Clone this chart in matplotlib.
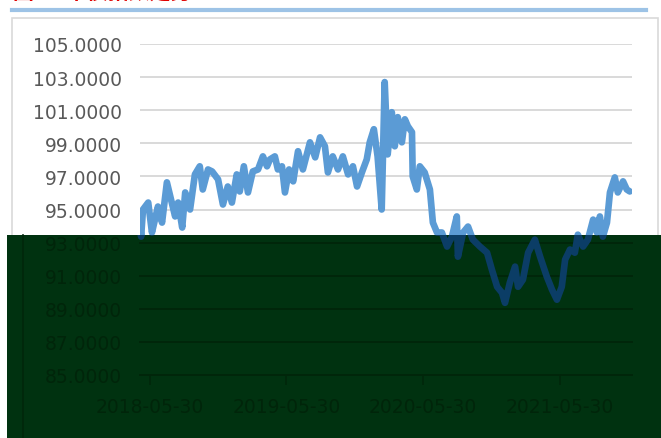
import matplotlib
matplotlib.use("Agg")
import matplotlib.pyplot as plt
import matplotlib.dates as mdates
from matplotlib.patches import Rectangle
from matplotlib.lines import Line2D
import pandas as pd

# =========================================
# Data
# =========================================

title_text = "图1：中债指数走势"

dates = [
    "2018-05-03", "2018-05-06", "2018-05-11", "2018-05-25", "2018-06-04", "2018-06-12",
    "2018-06-20", "2018-07-01", "2018-07-14", "2018-07-27", "2018-08-05", "2018-08-13",
    "2018-08-24", "2018-09-01", "2018-09-14", "2018-09-27", "2018-10-10", "2018-10-18",
    "2018-11-01", "2018-11-12", "2018-11-28", "2018-12-11", "2018-12-24", "2019-01-04",
    "2019-01-17", "2019-01-25", "2019-02-05", "2019-02-16", "2019-03-01", "2019-03-15",
    "2019-03-28", "2019-04-08", "2019-04-16", "2019-04-29", "2019-05-07", "2019-05-18",
    "2019-05-26", "2019-06-06", "2019-06-17", "2019-06-30", "2019-07-13", "2019-08-01",
    "2019-08-15", "2019-08-28", "2019-09-10", "2019-09-18", "2019-10-01", "2019-10-15",
    "2019-10-28", "2019-11-11", "2019-11-24", "2019-12-05", "2019-12-18", "2019-12-31",
    "2020-01-08", "2020-01-19", "2020-01-29", "2020-02-09", "2020-02-17", "2020-02-25",
    "2020-03-07", "2020-03-15", "2020-03-23", "2020-04-03", "2020-04-11", "2020-04-19",
    "2020-04-30", "2020-05-02", "2020-05-13", "2020-05-21", "2020-06-03", "2020-06-17",
    "2020-06-25", "2020-07-06", "2020-07-19", "2020-08-02", "2020-08-15", "2020-08-28",
    "2020-08-31", "2020-09-14", "2020-09-27", "2020-10-10", "2020-10-29", "2020-11-17",
    "2020-11-30", "2020-12-14", "2020-12-27", "2021-01-04", "2021-01-17", "2021-01-31",
    "2021-02-08", "2021-02-21", "2021-03-07", "2021-03-25", "2021-04-08", "2021-04-26",
    "2021-05-10", "2021-05-23", "2021-06-05", "2021-06-14", "2021-06-27", "2021-07-10",
    "2021-07-18", "2021-08-01", "2021-08-14", "2021-08-28", "2021-09-07", "2021-09-15",
    "2021-09-23", "2021-10-04", "2021-10-12", "2021-10-25", "2021-11-02", "2021-11-16",
    "2021-11-26", "2021-12-04",
]

values = [
    94.21, 93.36, 95.00, 95.42, 93.61, 94.39,
    95.18, 94.21, 96.64, 95.42, 94.58, 95.42,
    93.91, 96.03, 95.00, 97.12, 97.61, 96.21,
    97.42, 97.30, 96.82, 95.30, 96.39, 95.42,
    97.12, 96.09, 97.61, 96.03, 97.30, 97.42,
    98.21, 97.61, 98.03, 98.21, 97.42, 97.61,
    96.03, 97.42, 96.70, 98.52, 97.42, 99.06,
    98.15, 99.36, 98.82, 97.24, 98.21, 97.42,
    98.21, 97.12, 97.61, 96.39, 97.24, 98.03,
    99.06, 99.85, 98.21, 95.00, 102.70, 98.33,
    100.88, 98.82, 100.58, 99.06, 100.45, 100.03,
    99.67, 97.00, 96.21, 97.61, 97.24, 96.21,
    94.21, 93.61, 93.61, 92.76, 93.36, 94.58,
    92.15, 93.61, 93.97, 93.18, 92.76, 92.39,
    91.36, 90.33, 89.97, 89.36, 90.58, 91.55,
    90.33, 90.76, 92.39, 93.18, 92.15, 90.94,
    90.15, 89.55, 90.33, 91.97, 92.58, 92.39,
    93.48, 92.76, 93.18, 94.39, 93.61, 94.58,
    93.36, 94.21, 96.03, 96.94, 96.03, 96.70,
    96.21, 96.09,
]

x_ticks = ["2018-05-30", "2019-05-30", "2020-05-30", "2021-05-30"]
y_ticks = [85, 87, 89, 91, 93, 95, 97, 99, 101, 103, 105]
x_range = ["2018-05-03", "2021-12-10"]

LINE_COLOR = "#5B9BD5"
GRID_COLOR = "#D9D9D9"
TEXT_COLOR = "#595959"

# ghost colours inside the dark overlay band
SHADE_COLOR = "#003210"
GHOST_LINE = "#0b3d66"
GHOST_GRID = "#00260a"
GHOST_TEXT = "#00250a"

W, H = 661, 439


def style_axes(ax, grid_color, text_color, axis_color):
    ax.set_ylim(85, 105)
    ax.set_xlim(pd.to_datetime(x_range[0]), pd.to_datetime(x_range[1]))
    ax.set_yticks(y_ticks)
    ax.set_yticklabels([f"{v:.4f}" for v in y_ticks])
    ax.set_xticks(pd.to_datetime(x_ticks))
    ax.xaxis.set_major_formatter(mdates.DateFormatter("%Y-%m-%d"))
    ax.grid(axis="y", color=grid_color, linewidth=1.4)
    ax.grid(axis="x", visible=False)
    ax.set_axisbelow(True)
    for side in ["top", "right", "left"]:
        ax.spines[side].set_visible(False)
    ax.spines["bottom"].set_color(axis_color)
    ax.spines["bottom"].set_linewidth(1.2)
    ax.tick_params(axis="y", length=0, pad=13, labelsize=13.5, labelcolor=text_color)
    ax.tick_params(axis="x", length=7, width=1.2, color=axis_color, pad=9,
                   labelsize=13.5, labelcolor=text_color)


def main() -> None:
    x = pd.to_datetime(dates)

    fig = plt.figure(figsize=(W / 100, H / 100), dpi=100)
    fig.patch.set_facecolor("white")

    # chart frame, top rule and clipped title
    fig.add_artist(Rectangle((12 / W, -0.1), (658 - 12) / W, 1.1 - 19 / H,
                             transform=fig.transFigure, facecolor="white",
                             edgecolor=GRID_COLOR, linewidth=1.2, zorder=-1))
    fig.add_artist(Line2D([12 / W, 646 / W], [1 - 11 / H, 1 - 11 / H],
                          transform=fig.transFigure, color="#9DC3E6", linewidth=3))
    fig.text(13 / W, 1 - 3 / H, title_text, color="#E00000", fontsize=15,
             fontweight="bold", va="bottom", ha="left",
             family=["Noto Sans CJK SC", "DejaVu Sans"])

    pos = [140 / W, 1 - 376 / H, (632 - 140) / W, (376 - 45) / H]

    ax = fig.add_axes(pos)
    ax.set_facecolor("none")
    style_axes(ax, GRID_COLOR, TEXT_COLOR, GRID_COLOR)
    ax.plot(x, values, color=LINE_COLOR, linewidth=4.8,
            solid_joinstyle="round", solid_capstyle="round", zorder=3)

    # dark band over the lower part of the picture
    shade = Rectangle((7 / W, 0), 1 - 7 / W, (H - 236) / H,
                      transform=fig.transFigure, facecolor=SHADE_COLOR,
                      edgecolor="none", zorder=5)
    fig.add_artist(shade)
    fig.add_artist(Line2D([23 / W, 23 / W], [0, (H - 236) / H],
                          transform=fig.transFigure, color=GHOST_GRID,
                          linewidth=1.2, zorder=6))

    # faint copy of the chart seen through the band
    ax2 = fig.add_axes(pos)
    ax2.set_zorder(6)
    ax2.set_facecolor("none")
    style_axes(ax2, GHOST_GRID, GHOST_TEXT, GHOST_GRID)
    ghost, = ax2.plot(x, values, color=GHOST_LINE, linewidth=4.8,
                      solid_joinstyle="round", solid_capstyle="round")
    ghost.set_clip_path(shade)
    for gl in ax2.get_ygridlines():
        gl.set_clip_path(shade)
    for lbl in ax2.get_yticklabels():
        lbl.set_clip_path(shade)
        lbl.set_clip_on(True)

    fig.savefig("out.png", dpi=100)


if __name__ == "__main__":
    main()
